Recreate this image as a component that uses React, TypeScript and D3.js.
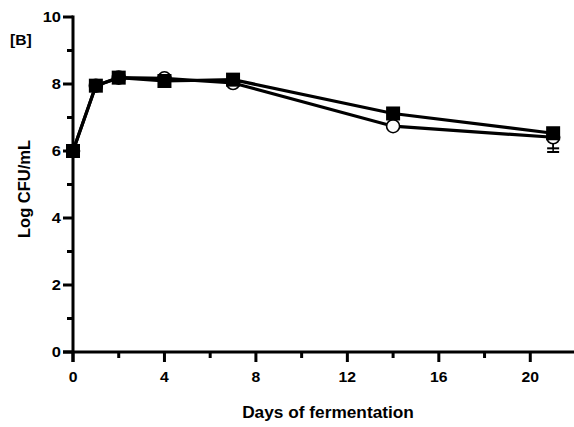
import React, { useEffect, useRef } from 'react';
import * as d3 from 'd3';

const days = [0, 1, 2, 4, 7, 14, 21];
const squareValues = [6.0, 7.95, 8.19, 8.09, 8.13, 7.12, 6.53];
const squareErr = [0, 0, 0, 0, 0, 0, 0.45];
const circleValues = [6.0, 7.95, 8.19, 8.17, 8.03, 6.74, 6.41];
const circleErr = [0, 0, 0, 0, 0, 0, 0.44];
const xTicks = [0, 4, 8, 12, 16, 20];
const xMinor = [2, 6, 10, 14, 18];
const yTicks = [0, 2, 4, 6, 8, 10];
const yMinor = [1, 3, 5, 7, 9];

const W = 574;
const H = 427;
const font = 'Liberation Sans, Arial, sans-serif';

const App = () => {
  const svgRef = useRef<SVGSVGElement>(null);

  useEffect(() => {
    const svg = d3.select(svgRef.current);
    svg.selectAll('*').remove();

    const x = d3.scaleLinear().domain([0, 22]).range([73, 576]);
    const y = d3.scaleLinear().domain([0, 10]).range([352, 17]);

    const g = svg.append('g');

    // axes
    g.append('line')
      .attr('x1', x(0)).attr('x2', x(0))
      .attr('y1', y(10) - 1.5).attr('y2', y(0) + 10)
      .attr('stroke', '#000').attr('stroke-width', 3);
    g.append('line')
      .attr('x1', x(0) - 10).attr('x2', W)
      .attr('y1', y(0)).attr('y2', y(0))
      .attr('stroke', '#000').attr('stroke-width', 3);

    g.selectAll('.ytick').data(yTicks).enter().append('line')
      .attr('x1', x(0) - 10).attr('x2', x(0))
      .attr('y1', d => y(d)).attr('y2', d => y(d))
      .attr('stroke', '#000').attr('stroke-width', 3);
    g.selectAll('.yminor').data(yMinor).enter().append('line')
      .attr('x1', x(0) - 6).attr('x2', x(0))
      .attr('y1', d => y(d)).attr('y2', d => y(d))
      .attr('stroke', '#000').attr('stroke-width', 3);
    g.selectAll('.xtick').data(xTicks).enter().append('line')
      .attr('x1', d => x(d)).attr('x2', d => x(d))
      .attr('y1', y(0)).attr('y2', y(0) + 10)
      .attr('stroke', '#000').attr('stroke-width', 3);
    g.selectAll('.xminor').data(xMinor).enter().append('line')
      .attr('x1', d => x(d)).attr('x2', d => x(d))
      .attr('y1', y(0)).attr('y2', y(0) + 6)
      .attr('stroke', '#000').attr('stroke-width', 3);

    // tick labels, slightly wide like the original
    g.selectAll('.ylab').data(yTicks).enter().append('text')
      .attr('transform', d => `translate(${x(0) - 12}, ${y(d)}) scale(1.1, 1)`)
      .attr('dy', '0.36em')
      .attr('text-anchor', 'end')
      .style('font-family', font).style('font-weight', 'bold').style('font-size', '15px')
      .text(d => d);
    g.selectAll('.xlab').data(xTicks).enter().append('text')
      .attr('transform', d => `translate(${x(d)}, ${y(0) + 30}) scale(1.05, 1)`)
      .attr('text-anchor', 'middle')
      .style('font-family', font).style('font-weight', 'bold').style('font-size', '15px')
      .text(d => d);

    g.append('text')
      .attr('transform', 'translate(328, 418) scale(1.08, 1)')
      .attr('text-anchor', 'middle')
      .style('font-family', font).style('font-weight', 'bold').style('font-size', '16px')
      .text('Days of fermentation');
    g.append('text')
      .attr('transform', 'translate(30, 189) rotate(-90)')
      .attr('text-anchor', 'middle')
      .style('font-family', font).style('font-weight', 'bold').style('font-size', '16.5px')
      .text('Log CFU/mL');
    g.append('text')
      .attr('transform', 'translate(10, 45) scale(1.12, 1)')
      .style('font-family', font).style('font-weight', 'bold').style('font-size', '14px')
      .text('[B]');

    const line = d3.line<number>()
      .x((d, i) => x(days[i]))
      .y(d => y(d));

    // error bars (lower only)
    const drawErr = (vals: number[], errs: number[]) => {
      vals.forEach((v, i) => {
        if (!errs[i]) return;
        const cx = x(days[i]);
        g.append('line')
          .attr('x1', cx).attr('x2', cx)
          .attr('y1', y(v)).attr('y2', y(v - errs[i]))
          .attr('stroke', '#000').attr('stroke-width', 1.5);
        g.append('line')
          .attr('x1', cx - 6).attr('x2', cx + 6)
          .attr('y1', y(v - errs[i])).attr('y2', y(v - errs[i]))
          .attr('stroke', '#000').attr('stroke-width', 2);
      });
    };
    drawErr(circleValues, circleErr);
    drawErr(squareValues, squareErr);

    g.append('path').datum(circleValues)
      .attr('d', line).attr('fill', 'none')
      .attr('stroke', '#000').attr('stroke-width', 3.2);
    g.append('path').datum(squareValues)
      .attr('d', line).attr('fill', 'none')
      .attr('stroke', '#000').attr('stroke-width', 3.2);

    g.selectAll('.circ').data(circleValues).enter().append('circle')
      .attr('cx', (d, i) => x(days[i])).attr('cy', d => y(d))
      .attr('r', 6.5)
      .attr('fill', '#fff').attr('stroke', '#000').attr('stroke-width', 1.6);

    g.selectAll('.sq').data(squareValues).enter().append('rect')
      .attr('x', (d, i) => x(days[i]) - 7).attr('y', d => y(d) - 7)
      .attr('width', 14).attr('height', 14)
      .attr('fill', '#000');
  }, []);

  return (
    <svg ref={svgRef} width={W} height={H}
      style={{ position: 'absolute', left: 0, top: 0, background: '#fff' }} />
  );
};

export default App;
